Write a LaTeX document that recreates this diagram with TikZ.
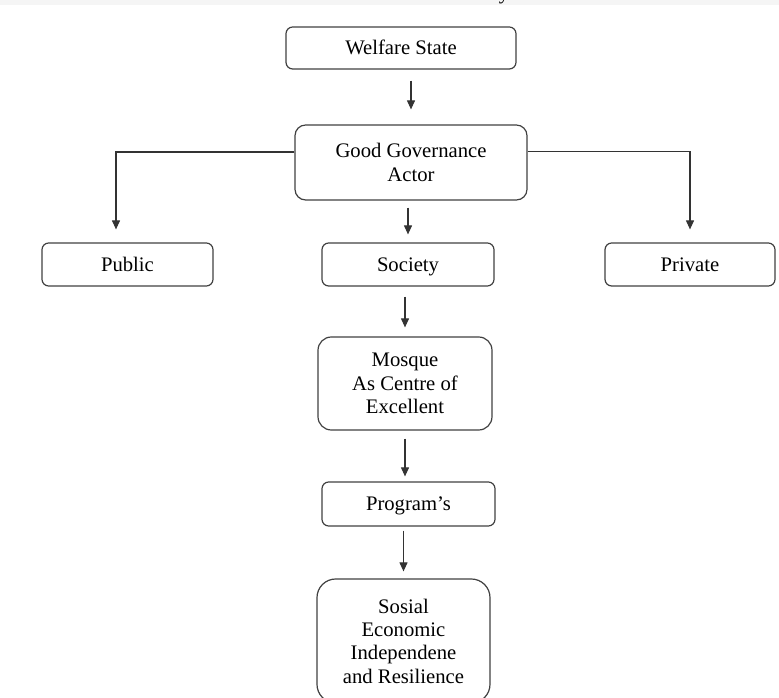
\documentclass[tikz,border=0pt]{standalone}
\usepackage{fontspec}
\setmainfont{Liberation Serif}
\usetikzlibrary{arrows.meta,calc}
\tikzset{
  box/.style={draw=black!75, line width=0.9pt, align=center, inner sep=0pt,
    font=\fontsize{15.5}{17.5}\selectfont},
  oneline/.style={text height=12.5pt, text depth=2.5pt},
  arr/.style={draw=black!80, line width=0.8pt, -{Triangle[length=6.75pt,width=6pt]}},
}
\begin{document}
\begin{tikzpicture}[x=0.75pt,y=0.75pt]
\useasboundingbox (0,0) rectangle (779,-698);
\clip (0,0) rectangle (779,-698);
\fill[black!4] (0,0) rectangle (779,-5);
\node[font=\fontsize{15.5}{17.5}\selectfont, anchor=base, inner sep=0pt] (cut) at (504,0) {y};

\node[box, oneline, rounded corners=5pt, minimum width=172.5pt, minimum height=31.5pt] (wel) at (401,-48) {Welfare State};
\node[box, rounded corners=8pt, minimum width=174pt, minimum height=56.25pt] (gg) at (411,-162.5) {Good Governance\\Actor};
\node[box, oneline, rounded corners=5pt, minimum width=128.25pt, minimum height=32.25pt] (pub) at (127.5,-264.5) {Public};
\node[box, oneline, rounded corners=5pt, minimum width=129pt, minimum height=32.25pt] (soc) at (408,-264.5) {Society};
\node[box, oneline, rounded corners=5pt, minimum width=127.5pt, minimum height=32.25pt] (priv) at (690,-264.5) {Private};
\node[box, rounded corners=10pt, minimum width=130.5pt, minimum height=69.75pt] (mos) at (405,-383.5) {Mosque\\As Centre of\\Excellent};
\node[box, oneline, rounded corners=5pt, minimum width=129.75pt, minimum height=33pt] (prog) at (408.5,-504) {Program’s};
\node[box, rounded corners=14pt, minimum width=129.75pt, minimum height=93pt] (sos) at (403.5,-641) {Sosial\\Economic\\Independene\\and Resilience};

\draw[arr, shorten <=8.25pt, shorten >=11.25pt] (gg.north |- wel.south) -- (gg.north);
\draw[arr, shorten <=5.25pt, shorten >=6pt] (soc.north |- gg.south) -- (soc.north);
\draw[arr, shorten <=7.5pt, shorten >=6.75pt] (mos.north |- soc.south) -- (mos.north);
\draw[arr, shorten <=6pt, shorten >=3.75pt] (mos.south) -- (mos.south |- prog.north);
\draw[arr, shorten <=3pt, shorten >=5.25pt] (sos.north |- prog.south) -- (sos.north);
\draw[arr, shorten >=9.75pt] ($(gg.west)+(0,10.5)$) -| ($(pub.north)+(-11.5,0)$);
\draw[arr, shorten >=9.75pt] ($(gg.east)+(0,11)$) -| (priv.north);
\end{tikzpicture}
\end{document}
